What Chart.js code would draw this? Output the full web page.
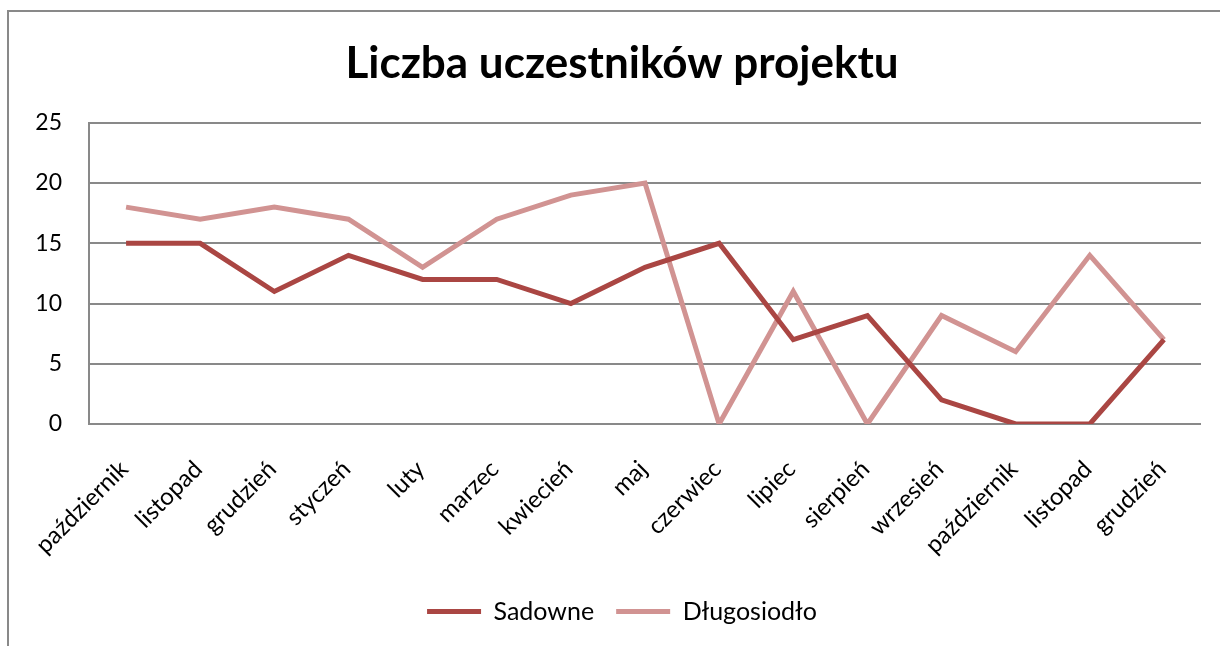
<!DOCTYPE html>
<html>
<head>
<meta charset="utf-8">
<script src="https://cdn.jsdelivr.net/npm/chart.js@4/dist/chart.umd.min.js"></script>
<style>
    html, body { margin: 0; padding: 0; background: #fff; overflow: hidden; }
    .frame {
        position: absolute; left: 7px; top: 10px; width: 1400px; height: 800px;
        border-left: 2px solid #898989; border-top: 2px solid #898989;
    }
    .wrap { position: absolute; left: 0; top: 0; width: 1220px; height: 646px; }
</style>
</head>
<body>
<div class="frame"></div>
<div class="wrap"><canvas id="chart"></canvas></div>
<script>
const months = ['październik', 'listopad', 'grudzień', 'styczeń', 'luty', 'marzec', 'kwiecień',
    'maj', 'czerwiec', 'lipiec', 'sierpień', 'wrzesień', 'październik', 'listopad', 'grudzień'];
const sadowne = [15, 15, 11, 14, 12, 12, 10, 13, 15, 7, 9, 2, 0, 0, 7];
const dlugosiodlo = [18, 17, 18, 17, 13, 17, 19, 20, 0, 11, 0, 9, 6, 14, 7];

const font = 'Lato, Carlito, Calibri, sans-serif';
const gridColor = '#898989';

const ctx = document.getElementById('chart').getContext('2d');
new Chart(ctx, {
    type: 'line',
    data: {
        labels: months,
        datasets: [{
            label: 'Sadowne',
            data: sadowne,
            borderColor: '#aa4643',
            backgroundColor: '#aa4643',
            borderWidth: 5,
            pointRadius: 0,
            tension: 0
        }, {
            label: 'Długosiodło',
            data: dlugosiodlo,
            borderColor: '#d19392',
            backgroundColor: '#d19392',
            borderWidth: 5,
            pointRadius: 0,
            tension: 0
        }]
    },
    options: {
        responsive: true,
        maintainAspectRatio: false,
        animation: false,
        layout: { padding: { left: 24, right: 0, top: 0, bottom: 12 } },
        scales: {
            x: {
                offset: true,
                grid: { display: false },
                border: { display: false },
                ticks: {
                    color: '#000',
                    font: { family: font, size: 24 },
                    autoSkip: false,
                    minRotation: 45,
                    maxRotation: 45,
                    labelOffset: -2,
                    padding: 23
                },
                afterFit: (scale) => { scale.height = 153; }
            },
            y: {
                min: 0,
                max: 25,
                ticks: {
                    stepSize: 5,
                    color: '#000',
                    font: { family: font, size: 23 },
                    padding: 27
                },
                grid: { color: gridColor, lineWidth: 2, drawTicks: false },
                border: { display: true, color: gridColor, width: 2 },
                afterFit: (scale) => { scale.width = 65; }
            },
            // empty spacer on the right so the gridlines stop short of the edge
            yRight: {
                position: 'right',
                min: 0,
                max: 25,
                ticks: { display: false },
                grid: { display: false },
                border: { display: false },
                afterFit: (scale) => { scale.width = 19; }
            }
        },
        plugins: {
            title: {
                display: true,
                text: 'Liczba uczestników projektu',
                color: '#000',
                font: { family: font, size: 44, weight: 'bold' },
                padding: { top: 37, bottom: 33 }
            },
            legend: {
                position: 'bottom',
                labels: {
                    color: '#000',
                    font: { family: font, size: 25 },
                    usePointStyle: true,
                    pointStyle: 'line',
                    pointStyleWidth: 54,
                    padding: 22
                }
            },
            tooltip: { enabled: false }
        }
    }
});
</script>
</body>
</html>
